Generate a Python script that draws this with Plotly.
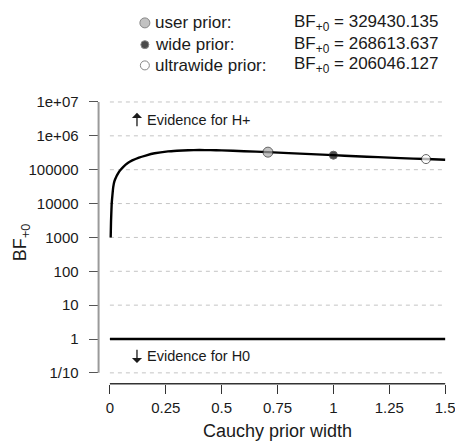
import plotly.graph_objects as go

# The page body has an 8px margin; size the figure so it fills the 463x448 window.
OFF = 8
W, H = 463 - OFF, 448 - OFF

# Robustness curve: Cauchy prior width vs BF+0
prior_width = [0.0035, 0.005, 0.008, 0.011, 0.015, 0.02, 0.03, 0.04, 0.048, 0.06,
               0.08, 0.1, 0.13, 0.16, 0.2, 0.26, 0.3, 0.35, 0.4, 0.45,
               0.5, 0.6, 0.7071, 0.8, 0.9, 1.0, 1.1, 1.2, 1.3, 1.4142, 1.5]
bf_values = [1000, 3000, 10000, 17000, 31000, 45000, 65000, 85000, 100000, 122000,
             158000, 188000, 228000, 262000, 305000, 348000, 364000, 376000, 380000, 378000,
             372000, 352000, 329430.135, 308000, 288000, 268613.637, 250000, 235000, 220000,
             206046.127, 196000]

prior_names = ["user prior:", "wide prior:", "ultrawide prior:"]
prior_r = [0.7071, 1.0, 1.4142]
prior_bf = [329430.135, 268613.637, 206046.127]
prior_bf_text = ["329430.135", "268613.637", "206046.127"]
prior_fill = ["#a9a9a9", "#000000", "#ffffff"]
prior_size = [10, 8, 9]

ytick_vals = [0.1, 1, 10, 100, 1000, 1e4, 1e5, 1e6, 1e7]
ytick_text = ["1/10", "1", "10", "100", "1000", "10000", "100000", "1e+06", "1e+07"]
xtick_vals = [0, 0.25, 0.5, 0.75, 1, 1.25, 1.5]
xtick_text = ["0", "0.25", "0.5", "0.75", "1", "1.25", "1.5"]

FONT = "Liberation Sans, Arial, sans-serif"
TXT = "#1a1a1a"


def px(x):
    return x - OFF


def py(y):
    return y - OFF


fig = go.Figure()

# dashed grid lines at each decade, spanning 0..1.5
for v in ytick_vals:
    fig.add_trace(go.Scatter(x=[xtick_vals[0], xtick_vals[-1]], y=[v, v], mode="lines",
                             line=dict(color="#c4c4c4", width=1, dash="4px,4px"),
                             hoverinfo="skip", showlegend=False))

# BF = 1 reference line
fig.add_trace(go.Scatter(x=[xtick_vals[0], xtick_vals[-1]], y=[1, 1], mode="lines",
                         line=dict(color="black", width=2.6),
                         hoverinfo="skip", showlegend=False))

# curve
fig.add_trace(go.Scatter(x=prior_width, y=bf_values, mode="lines",
                         line=dict(color="black", width=2.4, shape="spline", smoothing=0.3),
                         showlegend=False))

# prior points
fig.add_trace(go.Scatter(x=prior_r, y=prior_bf, mode="markers",
                         marker=dict(color=prior_fill, size=prior_size,
                                     line=dict(color="#222222", width=1)),
                         cliponaxis=False, showlegend=False))

# legend (pixel-coordinate axes spanning the whole figure)
leg_y = [py(18), py(40), py(61)]
fig.add_trace(go.Scatter(x=[px(147)] * 3, y=leg_y, mode="markers",
                         marker=dict(color=prior_fill, size=prior_size,
                                     line=dict(color="#555555", width=1)),
                         xaxis="x2", yaxis="y2", hoverinfo="skip", showlegend=False,
                         cliponaxis=False))

annotations = []
for name, txt, yy in zip(prior_names, prior_bf_text, leg_y):
    annotations.append(dict(x=px(155), y=yy, xref="x2", yref="y2", text=name, showarrow=False,
                            xanchor="left", yanchor="middle",
                            font=dict(family=FONT, size=17, color=TXT)))
    annotations.append(dict(x=px(296), y=yy, xref="x2", yref="y2",
                            text="BF<sub>+0</sub> = " + txt, showarrow=False,
                            xanchor="left", yanchor="middle",
                            font=dict(family=FONT, size=17, color=TXT)))

# evidence labels with arrows
annotations.append(dict(x=px(147), y=py(116), xref="x2", yref="y2", text="Evidence for H+",
                        showarrow=False, xanchor="left", yanchor="middle",
                        font=dict(family=FONT, size=14.5, color=TXT)))
annotations.append(dict(x=px(139), y=py(109), ax=px(139), ay=py(124), xref="x2", yref="y2",
                        axref="x2", ayref="y2", text="", showarrow=True, arrowhead=1,
                        arrowsize=1.3, arrowwidth=1.3, arrowcolor=TXT))
annotations.append(dict(x=px(147), y=py(355), xref="x2", yref="y2", text="Evidence for H0",
                        showarrow=False, xanchor="left", yanchor="middle",
                        font=dict(family=FONT, size=14.5, color=TXT)))
annotations.append(dict(x=px(139), y=py(362), ax=px(139), ay=py(347), xref="x2", yref="y2",
                        axref="x2", ayref="y2", text="", showarrow=True, arrowhead=1,
                        arrowsize=1.3, arrowwidth=1.3, arrowcolor=TXT))

annotations.append(dict(x=px(282), y=py(431), xref="x2", yref="y2", text="Cauchy prior width",
                        showarrow=False, xanchor="center", yanchor="middle",
                        font=dict(family=FONT, size=18, color=TXT)))
annotations.append(dict(x=px(22), y=py(240), xref="x2", yref="y2", text="BF<sub>+0</sub>",
                        showarrow=False, xanchor="center", yanchor="middle", textangle=-90,
                        font=dict(family=FONT, size=18, color=TXT)))

# axes lines (detached, R style)
shapes = [
    dict(type="line", xref="x2", yref="y2", x0=px(100), x1=px(100), y0=py(98), y1=py(372),
         line=dict(color="#9a9a9a", width=2)),
    dict(type="line", xref="x2", yref="y2", x0=px(111.5), x1=px(452), y0=py(383), y1=py(383),
         line=dict(color="#333333", width=1.3)),
]

ppd = (372 - 98) / 8.0  # px per decade
ppu = 340.5 / 1.5       # px per unit of prior width
left_px, right_px = 100, 455
top_px, bot_px = 94, 383
zero_px = 111.5

fig.update_layout(
    width=W, height=H,
    margin=dict(l=0, r=0, t=0, b=0),
    paper_bgcolor="white", plot_bgcolor="rgba(0,0,0,0)",
    font=dict(family=FONT, color=TXT),
    showlegend=False,
    xaxis=dict(domain=[px(left_px) / W, px(right_px) / W],
               range=[(left_px - zero_px) / ppu, (right_px - zero_px) / ppu],
               tickvals=xtick_vals, ticktext=xtick_text, ticks="outside", ticklen=9,
               tickcolor="#333333", tickwidth=1.2, showgrid=False, zeroline=False,
               showline=False, tickfont=dict(size=15, color=TXT), anchor="y",
               ticklabelstandoff=1),
    yaxis=dict(type="log", domain=[(H - py(bot_px)) / H, (H - py(top_px)) / H],
               range=[-1 - (bot_px - 372) / ppd, 7 + (98 - top_px) / ppd],
               tickvals=ytick_vals, ticktext=ytick_text, ticks="outside", ticklen=9,
               tickcolor="#555555", tickwidth=1.2, showgrid=False, zeroline=False,
               showline=False, tickfont=dict(size=15, color=TXT), anchor="x",
               ticklabelstandoff=7),
    xaxis2=dict(domain=[0, 1], range=[0, W], visible=False, anchor="y2"),
    yaxis2=dict(domain=[0, 1], range=[H, 0], visible=False, anchor="x2"),
    annotations=annotations,
    shapes=shapes,
)

fig.write_html("out.html")
